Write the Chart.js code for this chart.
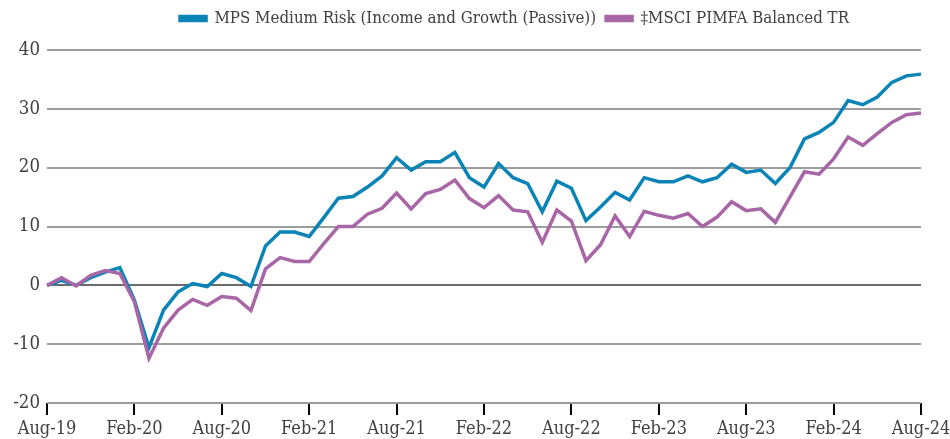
<!DOCTYPE html>
<html>
<head>
<meta charset="utf-8">
<script src="https://cdn.jsdelivr.net/npm/chart.js@4"></script>
<style>
  html, body { margin: 0; padding: 0; background: #fff; }
  #wrap { width: 950px; height: 439px; }
</style>
</head>
<body>
<div id="wrap"><canvas id="perfChart" width="950" height="439"></canvas></div>
<script>
// monthly points, Aug-19 .. Aug-24
const months = [
    'Aug-19','Sep-19','Oct-19','Nov-19','Dec-19','Jan-20','Feb-20','Mar-20','Apr-20','May-20','Jun-20','Jul-20',
    'Aug-20','Sep-20','Oct-20','Nov-20','Dec-20','Jan-21','Feb-21','Mar-21','Apr-21','May-21','Jun-21','Jul-21',
    'Aug-21','Sep-21','Oct-21','Nov-21','Dec-21','Jan-22','Feb-22','Mar-22','Apr-22','May-22','Jun-22','Jul-22',
    'Aug-22','Sep-22','Oct-22','Nov-22','Dec-22','Jan-23','Feb-23','Mar-23','Apr-23','May-23','Jun-23','Jul-23',
    'Aug-23','Sep-23','Oct-23','Nov-23','Dec-23','Jan-24','Feb-24','Mar-24','Apr-24','May-24','Jun-24','Jul-24',
    'Aug-24'
];

const mpsMediumRisk = [
    0, 0.85, 0, 1.3, 2.25, 3.0, -2.5, -10.6, -4.2, -1.1, 0.3, -0.2,
    2.0, 1.3, -0.2, 6.7, 9.05, 9.05, 8.3, 11.5, 14.8, 15.1, 16.7, 18.6,
    21.7, 19.6, 21.0, 21.0, 22.6, 18.3, 16.7, 20.7, 18.3, 17.3, 12.5, 17.7,
    16.5, 11.0, 13.3, 15.8, 14.5, 18.3, 17.6, 17.6, 18.6, 17.6, 18.3, 20.6,
    19.2, 19.6, 17.3, 20.0, 24.9, 26.0, 27.7, 31.4, 30.7, 32.0, 34.5, 35.6,
    35.9
];

const msciBalanced = [
    0, 1.3, -0.1, 1.7, 2.5, 2.0, -2.8, -12.4, -7.3, -4.2, -2.4, -3.4,
    -1.9, -2.2, -4.3, 2.8, 4.7, 4.05, 4.05, 7.1, 10.0, 10.0, 12.1, 13.1,
    15.7, 13.0, 15.6, 16.3, 17.9, 14.75, 13.2, 15.25, 12.8, 12.5, 7.3, 12.8,
    10.9, 4.2, 6.9, 11.8, 8.3, 12.6, 11.9, 11.4, 12.2, 10.0, 11.6, 14.2,
    12.7, 13.0, 10.7, 15.0, 19.3, 18.9, 21.5, 25.2, 23.8, 25.8, 27.7, 29.0,
    29.3
];

const seriesNames = ['MPS Medium Risk (Income and Growth (Passive))', '\u2021MSCI PIMFA Balanced TR'];
const yTicks = [-20, -10, 0, 10, 20, 30, 40];

const FONT = "'DejaVu Serif Condensed', 'Liberation Serif', serif";
const TEXT = '#404040';

// fixed legend height so the plot starts where the original does,
// and nudge the legend a bit right like in the original
const legendTweak = {
    id: 'legendTweak',
    beforeInit(chart) {
        const origFit = chart.legend.fit;
        chart.legend.fit = function () {
            origFit.bind(chart.legend)();
            this.height = 50;
        };
    },
    afterLayout(chart) {
        chart.legend.left += 40;
        chart.legend.right += 40;
    }
};

new Chart(document.getElementById('perfChart'), {
    type: 'line',
    data: {
        labels: months,
        datasets: [
            {
                label: seriesNames[0],
                data: mpsMediumRisk,
                borderColor: '#0a83b6',
                backgroundColor: '#0a83b6',
                borderWidth: 3.5,
                pointRadius: 0,
                tension: 0,
                order: 1
            },
            {
                label: seriesNames[1],
                data: msciBalanced,
                borderColor: '#a866a6',
                backgroundColor: '#a866a6',
                borderWidth: 3.5,
                pointRadius: 0,
                tension: 0,
                order: 0
            }
        ]
    },
    options: {
        responsive: false,
        animation: false,
        layout: { padding: { left: 0, right: 1, top: 0, bottom: 0 } },
        plugins: {
            legend: {
                position: 'top',
                labels: {
                    font: { family: FONT, size: 16.75 },
                    color: TEXT,
                    boxWidth: 26,
                    boxHeight: 4,
                    padding: 10,
                    sort: (a, b) => a.datasetIndex - b.datasetIndex
                }
            },
            tooltip: { enabled: false }
        },
        scales: {
            x: {
                offset: false,
                border: { display: false },
                grid: {
                    drawOnChartArea: false,
                    drawTicks: true,
                    tickLength: 12,
                    color: '#000',
                    lineWidth: 2
                },
                ticks: {
                    autoSkip: false,
                    maxRotation: 0,
                    padding: 4,
                    color: TEXT,
                    font: { family: FONT, size: 18 },
                    callback: function (val, i) {
                        return i % 6 === 0 ? months[i] : null;
                    }
                },
                afterFit(scale) {
                    scale.height = 36;
                    scale.paddingRight = 29;
                }
            },
            y: {
                min: yTicks[0],
                max: yTicks[yTicks.length - 1],
                border: { display: false },
                grid: {
                    drawTicks: false,
                    lineWidth: 2,
                    color: ctx => ctx.tick && ctx.tick.value === 0 ? '#6b6b6b' : '#9c9c9c'
                },
                afterBuildTicks(scale) {
                    scale.ticks = yTicks.map(v => ({ value: v }));
                },
                ticks: {
                    padding: 7,
                    color: TEXT,
                    font: { family: FONT, size: 18.5 }
                },
                afterFit(scale) { scale.width = 47; }
            }
        }
    },
    plugins: [legendTweak]
});
</script>
</body>
</html>
